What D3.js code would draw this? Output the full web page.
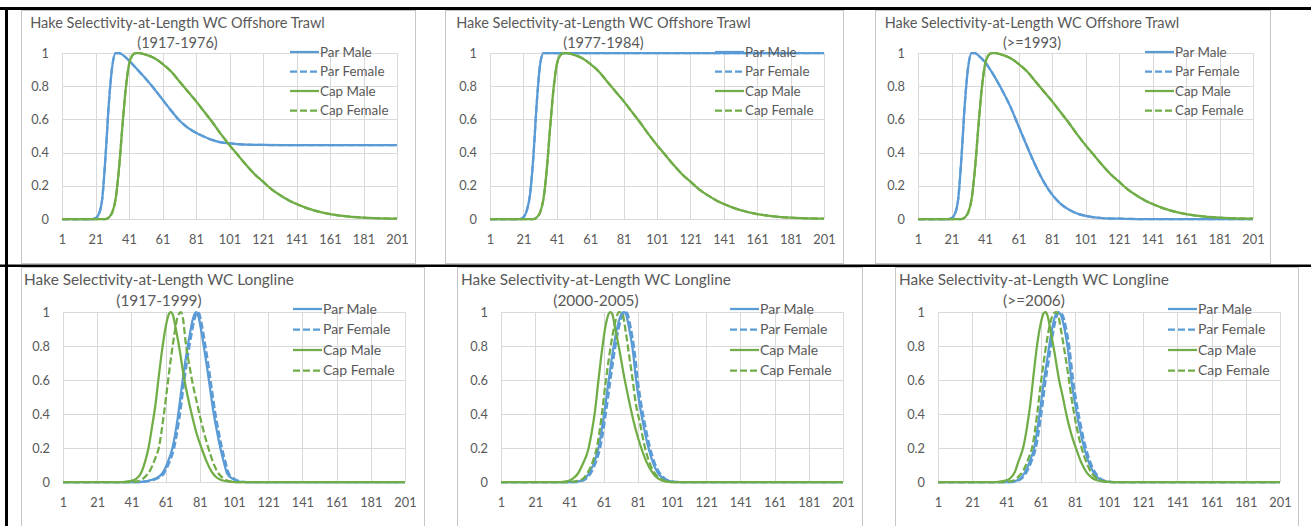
<!DOCTYPE html>
<html>
<head>
<meta charset="utf-8">
<script src="https://cdn.jsdelivr.net/npm/d3@7"></script>
<style>
  body { margin: 0; background: #fff; }
  svg { display: block; font-family: Lato, "Open Sans", sans-serif; }
</style>
</head>
<body>
<svg id="chart_svg"></svg>
<script>
// axis ticks
var lengthTicks = [1, 21, 41, 61, 81, 101, 121, 141, 161, 181, 201];
var selTicks = [0, 0.2, 0.4, 0.6, 0.8, 1];

var seriesNames = ["Par Male", "Par Female", "Cap Male", "Cap Female"];
var seriesColors = ["#5b9bd5", "#5b9bd5", "#70ad47", "#70ad47"];
var seriesDash = [null, "7,3", null, "7,3"];

// values: [length, selectivity]
// offshore trawl: cap curve same in all three periods, female = male
var trawlCap = [[1, 0], [27, 0], [29, 0.01], [31, 0.04], [33, 0.12], [35, 0.3], [37, 0.55], [39, 0.78], [41, 0.93], [43, 0.985], [45, 1], [47, 1], [51, 0.99], [56, 0.97], [61, 0.935], [66, 0.89], [71, 0.83], [76, 0.77], [81, 0.71], [86, 0.645], [91, 0.58], [96, 0.51], [101, 0.445], [106, 0.385], [111, 0.325], [116, 0.27], [121, 0.225], [126, 0.18], [131, 0.145], [136, 0.115], [141, 0.09], [146, 0.07], [151, 0.053], [156, 0.04], [161, 0.03], [171, 0.016], [181, 0.008], [191, 0.004], [201, 0.002]];

var trawl1917Par = [[1, 0], [19, 0], [21, 0.005], [23, 0.03], [25, 0.12], [27, 0.38], [29, 0.7], [31, 0.92], [33, 1], [35, 1], [37, 0.99], [41, 0.955], [46, 0.9], [51, 0.845], [56, 0.785], [61, 0.72], [66, 0.655], [71, 0.595], [76, 0.55], [81, 0.52], [86, 0.495], [91, 0.475], [96, 0.462], [101, 0.455], [111, 0.448], [121, 0.446], [141, 0.445], [201, 0.445]];

var trawl1977Par = [[1, 0], [19, 0], [21, 0.01], [23, 0.05], [25, 0.15], [27, 0.38], [29, 0.7], [31, 0.93], [33, 1], [201, 1]];

var trawl1993Par = [[1, 0], [19, 0], [21, 0.005], [23, 0.03], [25, 0.12], [27, 0.38], [29, 0.7], [31, 0.92], [33, 1], [35, 1], [37, 0.985], [41, 0.945], [46, 0.87], [51, 0.78], [56, 0.68], [61, 0.56], [66, 0.44], [71, 0.325], [76, 0.225], [81, 0.148], [86, 0.093], [91, 0.057], [96, 0.033], [101, 0.019], [111, 0.006], [121, 0.002], [131, 0], [201, 0]];

// longline 1917-1999
var line1917ParMale = [[1, 0], [45, 0], [50, 0.005], [55, 0.02], [59, 0.05], [62, 0.11], [65, 0.2], [68, 0.37], [71, 0.6], [73, 0.74], [75, 0.86], [77, 0.96], [78, 0.99], [79, 1], [80, 0.98], [82, 0.88], [83, 0.82], [85, 0.69], [87, 0.55], [89, 0.41], [91, 0.3], [93, 0.2], [95, 0.12], [97, 0.05], [100, 0.02], [104, 0.003], [108, 0], [201, 0]];
var line1917ParFemale = [[1, 0], [46, 0], [51, 0.005], [56, 0.02], [60, 0.05], [63, 0.11], [66, 0.2], [69, 0.37], [72, 0.6], [74, 0.74], [76, 0.86], [78, 0.96], [79, 0.99], [80, 1], [81, 0.98], [83, 0.88], [84, 0.82], [86, 0.69], [88, 0.55], [90, 0.41], [92, 0.3], [94, 0.2], [96, 0.12], [98, 0.05], [101, 0.02], [105, 0.003], [109, 0], [201, 0]];
var line1917CapMale = [[1, 0], [36, 0], [40, 0.005], [44, 0.02], [47, 0.06], [49, 0.12], [51, 0.2], [53, 0.32], [55, 0.45], [57, 0.62], [59, 0.78], [61, 0.91], [63, 0.99], [64, 1], [65, 0.99], [67, 0.9], [69, 0.79], [72, 0.6], [74, 0.5], [76, 0.41], [79, 0.29], [82, 0.2], [85, 0.12], [88, 0.06], [91, 0.025], [94, 0.01], [98, 0.002], [102, 0], [201, 0]];
var line1917CapFemale = [[1, 0], [40, 0], [45, 0.005], [49, 0.03], [52, 0.07], [55, 0.14], [57, 0.2], [60, 0.4], [62, 0.56], [64, 0.72], [66, 0.86], [68, 0.97], [70, 1], [71, 0.97], [73, 0.8], [75, 0.68], [77, 0.57], [79, 0.48], [81, 0.39], [84, 0.27], [86, 0.2], [89, 0.11], [92, 0.05], [95, 0.02], [98, 0.005], [102, 0], [201, 0]];

// longline 2000-2005
var line2000ParMale = [[1, 0], [43, 0], [47, 0.005], [51, 0.03], [54, 0.08], [56, 0.13], [58, 0.2], [61, 0.38], [64, 0.6], [66, 0.74], [68, 0.86], [70, 0.95], [72, 0.995], [73, 1], [74, 0.99], [76, 0.9], [78, 0.78], [80, 0.6], [82, 0.46], [84, 0.35], [87, 0.21], [90, 0.11], [93, 0.05], [96, 0.02], [100, 0.004], [104, 0], [201, 0]];
var line2000ParFemale = [[1, 0], [44, 0], [48, 0.005], [52, 0.03], [55, 0.08], [57, 0.13], [59, 0.2], [62, 0.38], [65, 0.6], [67, 0.74], [69, 0.86], [71, 0.95], [73, 0.995], [74, 1], [75, 0.99], [77, 0.9], [79, 0.78], [81, 0.6], [83, 0.46], [85, 0.35], [88, 0.21], [91, 0.11], [94, 0.05], [97, 0.02], [101, 0.004], [105, 0], [201, 0]];
var line2000CapMale = [[1, 0], [36, 0], [40, 0.005], [43, 0.02], [46, 0.05], [49, 0.11], [52, 0.19], [54, 0.29], [56, 0.42], [58, 0.6], [60, 0.77], [62, 0.91], [64, 0.99], [65, 1], [66, 0.99], [68, 0.89], [70, 0.79], [73, 0.62], [75, 0.52], [78, 0.38], [80, 0.3], [83, 0.2], [86, 0.12], [90, 0.05], [93, 0.02], [97, 0.004], [101, 0], [201, 0]];
var line2000CapFemale = [[1, 0], [40, 0], [45, 0.005], [49, 0.02], [52, 0.06], [55, 0.13], [57, 0.2], [60, 0.4], [62, 0.57], [64, 0.72], [66, 0.85], [68, 0.95], [70, 1], [72, 0.99], [74, 0.88], [76, 0.74], [78, 0.6], [80, 0.45], [82, 0.36], [85, 0.21], [88, 0.11], [91, 0.05], [94, 0.02], [98, 0.004], [102, 0], [201, 0]];

// longline >=2006
var line2006ParMale = [[1, 0], [42, 0], [46, 0.005], [50, 0.03], [53, 0.08], [55, 0.13], [57, 0.19], [60, 0.37], [63, 0.6], [65, 0.73], [67, 0.86], [69, 0.96], [71, 1], [73, 0.98], [75, 0.9], [77, 0.78], [79, 0.6], [81, 0.47], [83, 0.36], [86, 0.22], [89, 0.12], [92, 0.055], [95, 0.02], [99, 0.004], [103, 0], [201, 0]];
var line2006ParFemale = [[1, 0], [43, 0], [47, 0.005], [51, 0.03], [54, 0.08], [56, 0.13], [58, 0.19], [61, 0.37], [64, 0.6], [66, 0.73], [68, 0.86], [70, 0.96], [72, 1], [74, 0.98], [76, 0.9], [78, 0.78], [80, 0.6], [82, 0.47], [84, 0.36], [87, 0.22], [90, 0.12], [93, 0.055], [96, 0.02], [100, 0.004], [104, 0], [201, 0]];
var line2006CapMale = [[1, 0], [35, 0], [39, 0.005], [43, 0.02], [46, 0.06], [48, 0.12], [51, 0.21], [53, 0.32], [55, 0.46], [57, 0.64], [59, 0.81], [61, 0.93], [63, 0.995], [64, 1], [65, 0.98], [67, 0.88], [69, 0.77], [72, 0.59], [74, 0.5], [76, 0.4], [79, 0.28], [82, 0.19], [85, 0.11], [88, 0.055], [91, 0.025], [94, 0.01], [98, 0.002], [102, 0], [201, 0]];
var line2006CapFemale = [[1, 0], [39, 0], [44, 0.005], [48, 0.03], [51, 0.07], [54, 0.14], [56, 0.2], [59, 0.4], [61, 0.57], [63, 0.72], [65, 0.85], [67, 0.95], [69, 0.995], [70, 1], [71, 0.99], [73, 0.89], [75, 0.77], [77, 0.64], [79, 0.5], [81, 0.38], [83, 0.28], [85, 0.2], [88, 0.11], [91, 0.05], [94, 0.02], [98, 0.004], [102, 0], [201, 0]];

var panelTitles = [
    ["Hake Selectivity-at-Length  WC Offshore Trawl", "(1917-1976)"],
    ["Hake Selectivity-at-Length  WC Offshore Trawl", "(1977-1984)"],
    ["Hake Selectivity-at-Length  WC Offshore Trawl", "(>=1993)"],
    ["Hake Selectivity-at-Length  WC Longline", "(1917-1999)"],
    ["Hake Selectivity-at-Length  WC Longline", "(2000-2005)"],
    ["Hake Selectivity-at-Length  WC Longline", "(>=2006)"]
];
var panelSeries = [
    [trawl1917Par, trawl1917Par, trawlCap, trawlCap],
    [trawl1977Par, trawl1977Par, trawlCap, trawlCap],
    [trawl1993Par, trawl1993Par, trawlCap, trawlCap],
    [line1917ParMale, line1917ParFemale, line1917CapMale, line1917CapFemale],
    [line2000ParMale, line2000ParFemale, line2000CapMale, line2000CapFemale],
    [line2006ParMale, line2006ParFemale, line2006CapMale, line2006CapFemale]
];

// layout of the pasted charts (frame box and plot box); bottom row pasted a bit larger
var topRow = { titleSize: 14.5, title1: 18, title2: 38, legSize: 13.4, legTop: 52, legStep: 19.5 };
var botRow = { titleSize: 15.4, title1: 18, title2: 39, legSize: 14, legTop: 309, legStep: 20.5 };
var layout = [
    { row: topRow, frame: [21, 10, 415, 263], plot: [62, 53, 397, 219], titleDx: 156.5, legDx: 107 },
    { row: topRow, frame: [445, 10, 843, 263], plot: [490, 53, 824, 219], titleDx: 158.5, legDx: 109 },
    { row: topRow, frame: [875, 10, 1270, 263], plot: [918, 53, 1253, 219], titleDx: 157, legDx: 108 },
    { row: botRow, frame: [21, 267, 424, 530], plot: [63, 312, 405, 482], titleDx: 138, legDx: 112 },
    { row: botRow, frame: [457, 267, 862, 530], plot: [501, 312, 843, 482], titleDx: 139, legDx: 113 },
    { row: botRow, frame: [895, 267, 1298, 530], plot: [938, 312, 1280, 482], titleDx: 139, legDx: 112 }
];

var width = 1311, height = 526;
var svg = d3.select("#chart_svg").attr("width", width).attr("height", height);
svg.append("rect").attr("width", width).attr("height", height).attr("fill", "#fff");

var textColor = "#595959";
var gridColor = "#d9d9d9";

layout.forEach(function (L, i) {
    var g = svg.append("g").attr("class", "panel");
    var f = L.frame, p = L.plot, R = L.row;

    g.append("rect")
        .attr("x", f[0] + 0.5).attr("y", f[1] + 0.5)
        .attr("width", f[2] - f[0]).attr("height", f[3] - f[1])
        .attr("fill", "#fff").attr("stroke", "#c6c6c6");

    var x = d3.scaleLinear().domain([1, 201]).range([p[0], p[2]]);
    var y = d3.scaleLinear().domain([0, 1]).range([p[3], p[1]]);

    // x gridlines + labels
    var xAxis = g.append("g")
        .attr("transform", "translate(0," + p[3] + ")")
        .call(d3.axisBottom(x).tickValues(lengthTicks).tickSize(-(p[3] - p[1])).tickPadding(15.5).tickFormat(d3.format("d")));
    // y gridlines + labels
    var yAxis = g.append("g")
        .attr("transform", "translate(" + p[0] + ",0)")
        .call(d3.axisLeft(y).tickValues(selTicks).tickSize(-(p[2] - p[0])).tickPadding(13).tickFormat(d3.format(".1~f")));

    [xAxis, yAxis].forEach(function (ax) {
        ax.select(".domain").remove();
        ax.selectAll(".tick line").attr("stroke", gridColor).attr("shape-rendering", "crispEdges");
        ax.selectAll(".tick text").attr("fill", textColor).style("font-size", "12.8px").style("font-family", "Lato, sans-serif");
    });

    var line = d3.line()
        .x(function (d) { return x(d[0]); })
        .y(function (d) { return y(d[1]); })
        .curve(d3.curveMonotoneX);

    panelSeries[i].forEach(function (s, k) {
        g.append("path")
            .datum(s)
            .attr("d", line)
            .attr("fill", "none")
            .attr("stroke", seriesColors[k])
            .attr("stroke-width", 2.25)
            .attr("stroke-dasharray", seriesDash[k])
            .attr("stroke-linejoin", "round");
    });

    // title
    var t = g.append("text")
        .attr("text-anchor", "middle")
        .attr("fill", textColor)
        .style("font-size", R.titleSize + "px");
    t.append("tspan").attr("x", f[0] + L.titleDx).attr("y", f[1] + R.title1).text(panelTitles[i][0]);
    t.append("tspan").attr("x", f[0] + L.titleDx).attr("y", f[1] + R.title2).text(panelTitles[i][1]);

    // legend
    var lx = p[2] - L.legDx;
    seriesNames.forEach(function (name, k) {
        var ly = R.legTop + k * R.legStep;
        g.append("line")
            .attr("x1", lx).attr("x2", lx + 29)
            .attr("y1", ly).attr("y2", ly)
            .attr("stroke", seriesColors[k])
            .attr("stroke-width", 2.25)
            .attr("stroke-dasharray", seriesDash[k]);
        g.append("text")
            .attr("x", lx + 30).attr("y", ly)
            .attr("dy", "0.35em")
            .attr("fill", textColor)
            .style("font-size", R.legSize + "px")
            .text(name);
    });
});

// table rules of the page the charts were pasted into
svg.append("rect").attr("x", 0).attr("y", 7).attr("width", width).attr("height", 3).attr("fill", "#000");
svg.append("rect").attr("x", 5).attr("y", 7).attr("width", 3).attr("height", height).attr("fill", "#000");
svg.append("rect").attr("x", 0).attr("y", 264.5).attr("width", width).attr("height", 2.5).attr("fill", "#000");
</script>
</body>
</html>
